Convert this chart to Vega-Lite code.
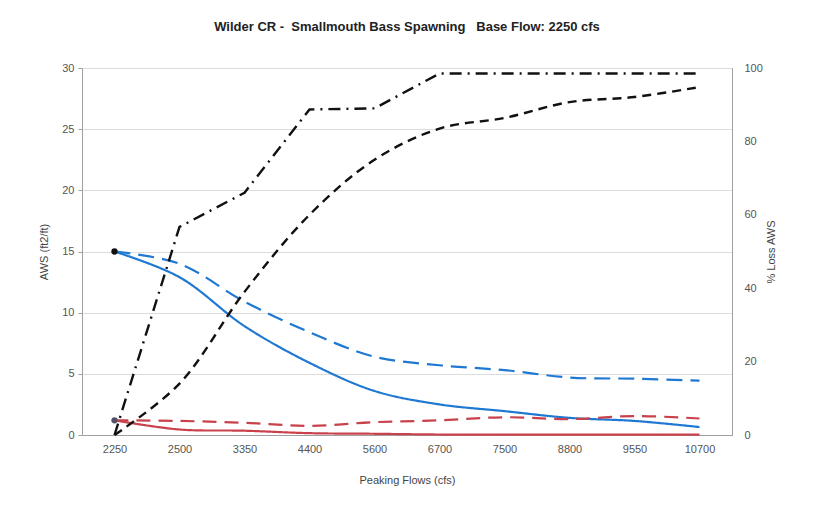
{
  "$schema": "https://vega.github.io/schema/vega-lite/v6.json",
  "autosize": {"type": "none"},
  "width": 650,
  "height": 367,
  "padding": {"left": 82, "top": 68, "right": 86, "bottom": 71},
  "background": "white",
  "title": {"text": "Wilder CR -\u00a0 Smallmouth Bass Spawning \u00a0 Base Flow: 2250 cfs", "font": "Liberation Sans", "fontSize": 13, "fontWeight": "bold", "color": "#222", "offset": 28, "anchor": "middle"},
  "config": {
    "view": {"stroke": "#a0a0a0", "strokeWidth": 1},
    "axis": {"labelFont": "Liberation Sans", "titleFont": "Liberation Sans", "labelFontSize": 11, "titleFontSize": 11, "labelColor": "#555", "titleColor": "#444", "titleFontWeight": "normal", "domainColor": "#a0a0a0", "tickColor": "#a0a0a0"}
  },
  "datasets": {
    "aws": [
      {"flow": "2250", "series": "Peaking AWS", "aws": 15},
      {"flow": "2500", "series": "Peaking AWS", "aws": 12.9},
      {"flow": "3350", "series": "Peaking AWS", "aws": 8.9},
      {"flow": "4400", "series": "Peaking AWS", "aws": 5.9},
      {"flow": "5600", "series": "Peaking AWS", "aws": 3.6},
      {"flow": "6700", "series": "Peaking AWS", "aws": 2.5},
      {"flow": "7500", "series": "Peaking AWS", "aws": 1.95},
      {"flow": "8800", "series": "Peaking AWS", "aws": 1.4},
      {"flow": "9550", "series": "Peaking AWS", "aws": 1.15},
      {"flow": "10700", "series": "Peaking AWS", "aws": 0.65},
      {"flow": "2250", "series": "Base AWS", "aws": 15},
      {"flow": "2500", "series": "Base AWS", "aws": 14.0},
      {"flow": "3350", "series": "Base AWS", "aws": 10.9},
      {"flow": "4400", "series": "Base AWS", "aws": 8.4},
      {"flow": "5600", "series": "Base AWS", "aws": 6.4},
      {"flow": "6700", "series": "Base AWS", "aws": 5.7},
      {"flow": "7500", "series": "Base AWS", "aws": 5.3},
      {"flow": "8800", "series": "Base AWS", "aws": 4.7},
      {"flow": "9550", "series": "Base AWS", "aws": 4.6},
      {"flow": "10700", "series": "Base AWS", "aws": 4.45},
      {"flow": "2250", "series": "Peaking AWS 2", "aws": 1.2},
      {"flow": "2500", "series": "Peaking AWS 2", "aws": 0.45},
      {"flow": "3350", "series": "Peaking AWS 2", "aws": 0.35},
      {"flow": "4400", "series": "Peaking AWS 2", "aws": 0.15},
      {"flow": "5600", "series": "Peaking AWS 2", "aws": 0.1},
      {"flow": "6700", "series": "Peaking AWS 2", "aws": 0.04},
      {"flow": "7500", "series": "Peaking AWS 2", "aws": 0.03},
      {"flow": "8800", "series": "Peaking AWS 2", "aws": 0.03},
      {"flow": "9550", "series": "Peaking AWS 2", "aws": 0.03},
      {"flow": "10700", "series": "Peaking AWS 2", "aws": 0.03},
      {"flow": "2250", "series": "Base AWS 2", "aws": 1.2},
      {"flow": "2500", "series": "Base AWS 2", "aws": 1.15},
      {"flow": "3350", "series": "Base AWS 2", "aws": 1.0},
      {"flow": "4400", "series": "Base AWS 2", "aws": 0.75},
      {"flow": "5600", "series": "Base AWS 2", "aws": 1.05},
      {"flow": "6700", "series": "Base AWS 2", "aws": 1.2},
      {"flow": "7500", "series": "Base AWS 2", "aws": 1.45},
      {"flow": "8800", "series": "Base AWS 2", "aws": 1.3},
      {"flow": "9550", "series": "Base AWS 2", "aws": 1.55},
      {"flow": "10700", "series": "Base AWS 2", "aws": 1.35}
    ],
    "dots": [
      {"flow": "2250", "series": "Start 1", "aws": 15},
      {"flow": "2250", "series": "Start 2", "aws": 1.2}
    ],
    "pctPeak": [
      {"flow": "2250", "series": "Loss Peaking", "pct": 0},
      {"flow": "2500", "series": "Loss Peaking", "pct": 56.7},
      {"flow": "3350", "series": "Loss Peaking", "pct": 66},
      {"flow": "4400", "series": "Loss Peaking", "pct": 88.7},
      {"flow": "5600", "series": "Loss Peaking", "pct": 89},
      {"flow": "6700", "series": "Loss Peaking", "pct": 98.5},
      {"flow": "7500", "series": "Loss Peaking", "pct": 98.5},
      {"flow": "8800", "series": "Loss Peaking", "pct": 98.5},
      {"flow": "9550", "series": "Loss Peaking", "pct": 98.5},
      {"flow": "10700", "series": "Loss Peaking", "pct": 98.5}
    ],
    "pctBase": [
      {"flow": "2250", "series": "Loss Base", "pct": 0},
      {"flow": "2500", "series": "Loss Base", "pct": 14},
      {"flow": "3350", "series": "Loss Base", "pct": 39},
      {"flow": "4400", "series": "Loss Base", "pct": 60},
      {"flow": "5600", "series": "Loss Base", "pct": 75},
      {"flow": "6700", "series": "Loss Base", "pct": 83.5},
      {"flow": "7500", "series": "Loss Base", "pct": 86.4},
      {"flow": "8800", "series": "Loss Base", "pct": 90.7},
      {"flow": "9550", "series": "Loss Base", "pct": 92.1},
      {"flow": "10700", "series": "Loss Base", "pct": 94.8}
    ]
  },
  "encoding": {
    "x": {"field": "flow", "type": "nominal", "sort": null,
      "scale": {"type": "point", "domain": ["2250","2500","3350","4400","5600","6700","7500","8800","9550","10700"], "padding": 0.5},
      "axis": {"title": "Peaking Flows (cfs)", "labelAngle": 0, "ticks": false, "labelPadding": 8, "titlePadding": 20, "grid": false}}
  },
  "layer": [
    {
      "encoding": {
        "y": {"field": "aws", "type": "quantitative", "scale": {"domain": [0, 30], "nice": false, "zero": true},
          "axis": {"title": "AWS (ft2/ft)", "orient": "left", "values": [0,5,10,15,20,25,30], "grid": true, "gridColor": "#dcdcdc", "tickSize": 4, "labelPadding": 4, "titlePadding": 12}}
      },
      "layer": [
        {
          "data": {"name": "aws"},
          "mark": {"type": "line", "interpolate": "catmull-rom", "strokeWidth": 2.2},
          "encoding": {
            "color": {"field": "series", "type": "nominal", "legend": null,
              "scale": {"domain": ["Peaking AWS", "Base AWS", "Peaking AWS 2", "Base AWS 2", "Start 1", "Start 2"], "range": ["#1f78d1", "#1f78d1", "#c8414b", "#c8414b", "#111111", "#55506a"]}},
            "strokeDash": {"field": "series", "type": "nominal", "legend": null,
              "scale": {"domain": ["Peaking AWS", "Base AWS", "Peaking AWS 2", "Base AWS 2"], "range": [[1,0], [16,8], [1,0], [14,8]]}}
          }
        },
        {
          "data": {"name": "dots"},
          "mark": {"type": "point", "filled": true, "size": 40, "opacity": 1},
          "encoding": {
            "color": {"field": "series", "type": "nominal", "legend": null,
              "scale": {"domain": ["Peaking AWS", "Base AWS", "Peaking AWS 2", "Base AWS 2", "Start 1", "Start 2"], "range": ["#1f78d1", "#1f78d1", "#c8414b", "#c8414b", "#111111", "#55506a"]}}
          }
        }
      ]
    },
    {
      "encoding": {
        "y": {"field": "pct", "type": "quantitative", "scale": {"domain": [0, 100], "nice": false},
          "axis": {"title": "% Loss AWS", "orient": "right", "values": [0,20,40,60,80,100], "grid": false, "tickSize": 0, "labelPadding": 12, "titlePadding": 14, "titleAngle": 270}}
      },
      "layer": [
        {
          "data": {"name": "pctPeak"},
          "mark": {"type": "line", "interpolate": "linear", "strokeWidth": 2.4, "color": "#111111", "strokeDash": [12, 6, 2, 6]},
          "encoding": {"detail": {"field": "series", "type": "nominal"}}
        },
        {
          "data": {"name": "pctBase"},
          "mark": {"type": "line", "interpolate": "catmull-rom", "strokeWidth": 2.4, "color": "#111111", "strokeDash": [9, 6]},
          "encoding": {"detail": {"field": "series", "type": "nominal"}}
        }
      ]
    }
  ],
  "resolve": {"scale": {"y": "independent", "color": "independent"}}
}
